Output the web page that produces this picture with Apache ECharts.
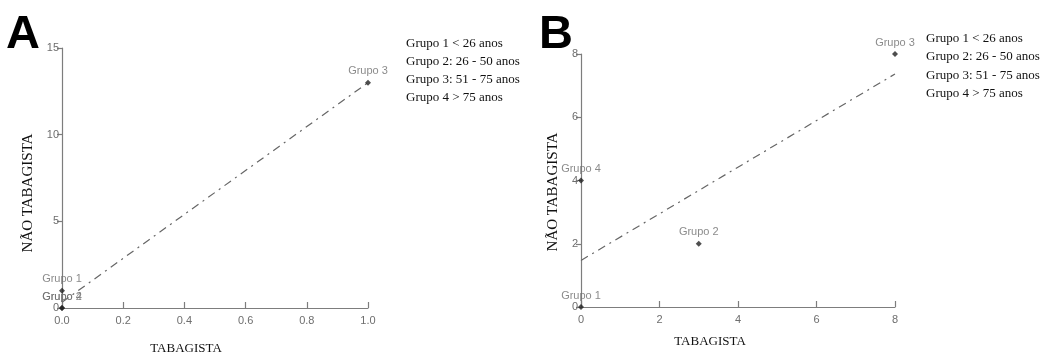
<!DOCTYPE html>
<html>
<head>
<meta charset="utf-8">
<style>
  html, body { margin: 0; padding: 0; background: #fff; }
  #chart { width: 1044px; height: 354px; }
</style>
<script src="https://cdn.jsdelivr.net/npm/echarts@6/dist/echarts.min.js"></script>
</head>
<body>
<div id="chart"></div>
<script>
// data
const groupNames = ['Grupo 1', 'Grupo 2', 'Grupo 3', 'Grupo 4'];
const tabagistaA = [0, 0, 1, 0];
const naoTabagistaA = [1, 0, 13, 0];
const tabagistaB = [0, 3, 8, 0];
const naoTabagistaB = [0, 2, 8, 4];
const legendLines = ['Grupo 1 < 26 anos', 'Grupo 2: 26 - 50 anos', 'Grupo 3: 51 - 75 anos', 'Grupo 4 > 75 anos'];

const axisGray = '#7d7d7d';
const labelGray = '#6e6e6e';
const serif = '"Liberation Serif", "DejaVu Serif", serif';
const sans = '"Liberation Sans", Arial, sans-serif';

// least squares trend line over the x range
function trend(xs, ys, x0, x1) {
  const n = xs.length;
  const mx = xs.reduce((a, b) => a + b, 0) / n;
  const my = ys.reduce((a, b) => a + b, 0) / n;
  let sxy = 0, sxx = 0;
  xs.forEach((x, i) => {
    sxy += (x - mx) * (ys[i] - my);
    sxx += (x - mx) * (x - mx);
  });
  const b = sxy / sxx;
  const a = my - b * mx;
  return [[x0, a + b * x0], [x1, a + b * x1]];
}

function points(xs, ys) {
  return xs.map((x, i) => ({ name: groupNames[i], value: [x, ys[i]] }));
}

function xAxis(gridIndex, min, max, interval, decimals) {
  return {
    type: 'value', gridIndex, min, max, interval,
    splitLine: { show: false },
    axisLine: { lineStyle: { color: axisGray, width: 1.2 } },
    axisTick: { inside: true, length: 6, lineStyle: { color: axisGray, width: 1.2 } },
    axisLabel: {
      color: labelGray, fontFamily: sans, fontSize: 11, margin: 7,
      formatter: v => v.toFixed(decimals)
    }
  };
}

function yAxis(gridIndex, min, max, interval) {
  return {
    type: 'value', gridIndex, min, max, interval,
    splitLine: { show: false },
    axisLine: { show: true, lineStyle: { color: axisGray, width: 1.2 } },
    axisTick: { show: true, length: 5, lineStyle: { color: axisGray, width: 1.2 } },
    axisLabel: { color: labelGray, fontFamily: sans, fontSize: 11, margin: 3 }
  };
}

function scatter(idx, xs, ys) {
  return {
    type: 'scatter', xAxisIndex: idx, yAxisIndex: idx,
    symbol: 'diamond', symbolSize: 6, clip: false,
    itemStyle: { color: '#222' },
    label: {
      show: true, position: 'top', distance: 3,
      formatter: p => p.name,
      color: labelGray, fontFamily: sans, fontSize: 11
    },
    data: points(xs, ys),
    z: 3
  };
}

function trendSeries(idx, xs, ys, x0, x1) {
  return {
    type: 'line', xAxisIndex: idx, yAxisIndex: idx,
    symbol: 'none', silent: true,
    lineStyle: { color: '#666', width: 1.2, type: [8, 5, 2, 5] },
    data: trend(xs, ys, x0, x1),
    z: 2
  };
}

function legendText(left, top, gap) {
  return legendLines.map((t, i) => ({
    type: 'text', left, top: top + i * gap,
    style: { text: t, fill: '#111', font: '13px ' + serif }
  }));
}

const chart = echarts.init(document.getElementById('chart'));

const option = {
  animation: false,
  grid: [
    { left: 62, top: 48, width: 306, height: 260 },
    { left: 581, top: 54, width: 314, height: 253 }
  ],
  xAxis: [xAxis(0, 0, 1, 0.2, 1), xAxis(1, 0, 8, 2, 0)],
  yAxis: [yAxis(0, 0, 15, 5), yAxis(1, 0, 8, 2)],
  series: [
    trendSeries(0, tabagistaA, naoTabagistaA, 0, 1),
    scatter(0, tabagistaA, naoTabagistaA),
    trendSeries(1, tabagistaB, naoTabagistaB, 0, 8),
    scatter(1, tabagistaB, naoTabagistaB)
  ],
  graphic: [
    { type: 'text', left: 6, top: 12, style: { text: 'A', fill: '#000', font: 'bold 47px ' + sans } },
    { type: 'text', left: 539, top: 12, style: { text: 'B', fill: '#000', font: 'bold 47px ' + sans } },
    { type: 'text', x: 186, y: 349, style: { text: 'TABAGISTA', fill: '#111', font: '13px ' + serif, align: 'center', verticalAlign: 'middle' } },
    { type: 'text', x: 710, y: 342, style: { text: 'TABAGISTA', fill: '#111', font: '13px ' + serif, align: 'center', verticalAlign: 'middle' } },
    { type: 'text', x: 28, y: 193, rotation: Math.PI / 2, style: { text: 'NÃO TABAGISTA', fill: '#111', font: '15px ' + serif, align: 'center', verticalAlign: 'middle' } },
    { type: 'text', x: 553, y: 192, rotation: Math.PI / 2, style: { text: 'NÃO TABAGISTA', fill: '#111', font: '15px ' + serif, align: 'center', verticalAlign: 'middle' } },
    ...legendText(406, 37, 18),
    ...legendText(926, 32, 18.5)
  ]
};

chart.setOption(option);
window.addEventListener('resize', () => chart.resize());
</script>
</body>
</html>
